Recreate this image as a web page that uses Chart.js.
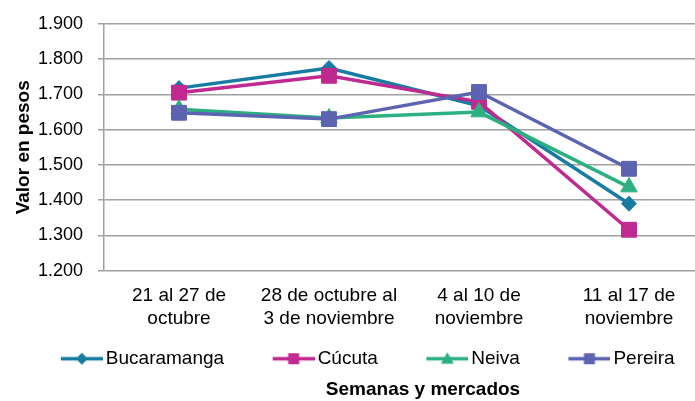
<!DOCTYPE html>
<html>
<head>
<meta charset="utf-8">
<script src="https://cdn.jsdelivr.net/npm/chart.js@4.4.1/dist/chart.umd.min.js"></script>
<style>
html,body{margin:0;padding:0;background:#fff;overflow:hidden}
#wrap{width:695px;height:401px}
</style>
</head>
<body>
<div id="wrap"><canvas id="c" width="695" height="401"></canvas></div>
<script>
// ---- data ----
const categories = [["21 al 27 de","octubre"],["28 de octubre al","3 de noviembre"],["4 al 10 de","noviembre"],["11 al 17 de","noviembre"]];
const seriesNames = ["Bucaramanga","Cúcuta","Neiva","Pereira"];
const bucaramanga = [1718, 1775, 1668, 1390];
const cucuta      = [1705, 1753, 1679, 1316];
const neiva       = [1658, 1633, 1650, 1437];
const pereira     = [1648, 1630, 1707, 1489];
const yTicks = [1200, 1300, 1400, 1500, 1600, 1700, 1800, 1900];
const yTitle = "Valor en pesos";
const xTitle = "Semanas y mercados";

// ---- styles ----
const colors = ["#187ba2", "#c0298f", "#2db081", "#5c63b0"];
const pointStyles = ["rectRot", "rect", "triangle", "rect"];
const pointRadii = [7.5, 10.5, 9.5, 10.5];
const drawOrder = [4, 3, 2, 1];
const FONT = '"Liberation Sans", Arial, Helvetica, sans-serif';
Chart.defaults.font.family = FONT;
Chart.defaults.color = '#000';

const seriesValues = [bucaramanga, cucuta, neiva, pereira];

// legend icons (line + marker)
function makeIcon(color, style) {
  const W = 87, H = 19;
  const c = document.createElement('canvas');
  c.width = W; c.height = H;
  const g = c.getContext('2d');
  const cy = H / 2, x0 = W - 42, cx = W - 21;
  g.strokeStyle = color; g.lineWidth = 3.5;
  g.beginPath(); g.moveTo(x0, cy); g.lineTo(W, cy); g.stroke();
  g.fillStyle = color;
  g.beginPath();
  if (style === 'rect') {
    g.rect(cx - 5.5, cy - 5.5, 11, 11);
  } else if (style === 'rectRot') {
    g.moveTo(cx, cy - 6); g.lineTo(cx + 6, cy); g.lineTo(cx, cy + 6); g.lineTo(cx - 6, cy); g.closePath();
  } else {
    g.moveTo(cx, cy - 6.5); g.lineTo(cx + 6.5, cy + 5); g.lineTo(cx - 6.5, cy + 5); g.closePath();
  }
  g.fill();
  return c;
}
const icons = colors.map((c, i) => makeIcon(c, pointStyles[i]));

const datasets = seriesNames.map((name, i) => ({
  label: name,
  data: seriesValues[i].map((v, j) => ({x: j, y: v})),
  borderColor: colors[i],
  backgroundColor: colors[i],
  borderWidth: 3.5,
  pointStyle: pointStyles[i],
  pointRadius: pointRadii[i],
  pointHoverRadius: pointRadii[i],
  pointBackgroundColor: colors[i],
  pointBorderColor: colors[i],
  pointBorderWidth: 1,
  tension: 0,
  order: drawOrder[i]
}));

const shiftPlugin = {
  id: 'shift',
  afterLayout(chart) {
    const t = chart.titleBlock;
    if (t) { t.left = 2 * 423 - t.right; }
    const l = chart.legend;
    if (l) { l.left -= 5; l.right -= 5; }
  }
};

new Chart(document.getElementById('c'), {
  type: 'line',
  data: { datasets },
  plugins: [shiftPlugin],
  options: {
    responsive: false,
    animation: false,
    devicePixelRatio: 1,
    layout: { autoPadding: false, padding: { left: 12, top: 24, right: 0, bottom: 0 } },
    scales: {
      x: {
        type: 'linear', bounds: 'data', min: -0.5, max: 3.44,
        afterBuildTicks: s => { s.ticks = categories.map((_, i) => ({ value: i })); },
        grid: { display: false, drawTicks: false },
        border: { display: false },
        ticks: {
          callback: v => categories[v],
          padding: 13.5, maxRotation: 0, minRotation: 0, autoSkip: false,
          font: { size: 19 }, color: '#000'
        },
        afterFit: s => { s.height = 68.6; s.paddingLeft = 0; s.paddingRight = 0; }
      },
      y: {
        type: 'linear', bounds: 'data', min: 1200, max: 1900,
        afterBuildTicks: s => { s.ticks = yTicks.map(v => ({ value: v })); },
        ticks: { callback: v => (v / 1000).toFixed(3), padding: 15, font: { size: 18 }, color: '#000' },
        grid: { color: '#a0a0a0', lineWidth: 1.5, tickLength: 6 },
        border: { color: '#a0a0a0', width: 1.5 },
        title: { display: true, text: yTitle, font: { size: 19, weight: 'bold' }, color: '#000', padding: { top: 0, bottom: 0 } },
        afterFit: s => { s.width = 92; s.paddingTop = 0; s.paddingBottom = 0; }
      }
    },
    plugins: {
      tooltip: { enabled: false },
      legend: {
        position: 'bottom', align: 'center',
        labels: {
          usePointStyle: true, pointStyleWidth: 74, padding: 10,
          font: { size: 19 }, color: '#000',
          sort: (a, b) => a.datasetIndex - b.datasetIndex,
          generateLabels: chart => Chart.defaults.plugins.legend.labels.generateLabels(chart)
            .map(l => Object.assign(l, { pointStyle: icons[l.datasetIndex], rotation: 0 }))
        }
      },
      title: {
        display: true, position: 'bottom', text: xTitle,
        font: { size: 19, weight: 'bold' }, color: '#000',
        padding: { top: 0, bottom: 0 }
      }
    }
  }
});
</script>
</body>
</html>
